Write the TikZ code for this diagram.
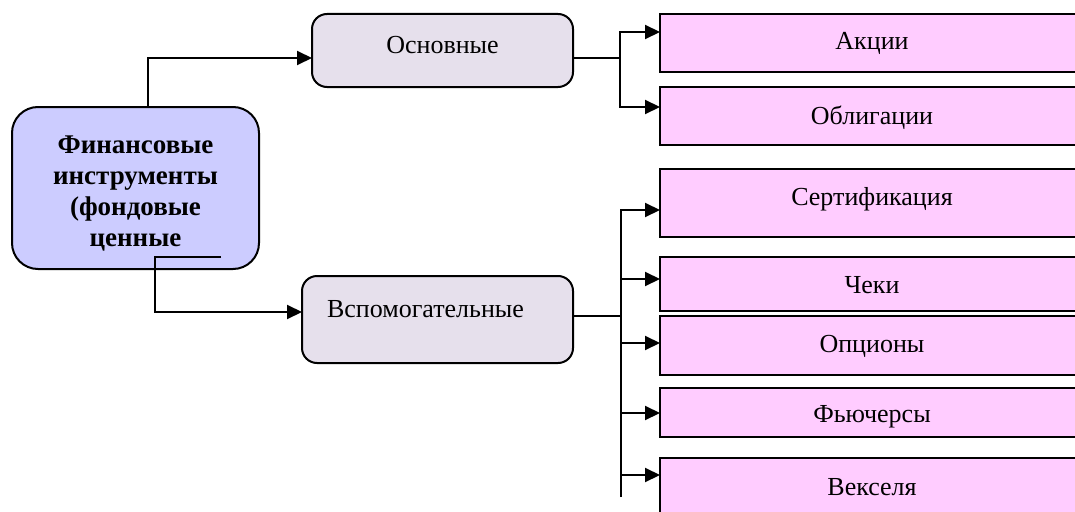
\documentclass[tikz,border=0pt]{standalone}
\usepackage{fontspec}
\setmainfont{Liberation Serif}
\usetikzlibrary{arrows.meta}
\definecolor{mainfill}{HTML}{CCCCFF}
\definecolor{grayfill}{HTML}{E6E0EC}
\definecolor{pinkfill}{HTML}{FFCCFF}
\begin{document}
\begin{tikzpicture}[x=1pt,y=-1pt,
  every node/.style={font=\fontsize{26}{31}\selectfont, inner sep=0pt, outer sep=0pt},
  line/.style={line width=2pt, draw=black},
  arr/.style={line, -{Triangle[length=15pt,width=14pt]}},
  mainbox/.style={draw, line width=2pt, fill=mainfill, rounded corners=26pt, align=center,
    font=\bfseries\fontsize{27}{31}\selectfont, anchor=north west},
  graybox/.style={draw, line width=2pt, fill=grayfill, rounded corners=15pt, anchor=north west},
  pinkbox/.style={draw, line width=2pt, fill=pinkfill, anchor=north west, minimum width=424pt},
]
\useasboundingbox (0,0) rectangle (1075,511);

% boxes
\node[mainbox, minimum width=247pt, minimum height=162pt] (main) at (12,107)
  {\rule{0pt}{29pt}Финансовые\\инструменты\\(фондовые\\ценные};
\node[graybox, minimum width=261pt, text height=39pt, text depth=34pt] (osn) at (312,14) {Основные};
\node[graybox, text width=221pt, align=left, inner xsep=25pt, text height=41pt, text depth=46pt] (vsp) at (302,276) {Вспомогательные};

\node[pinkbox, text height=36pt, text depth=22pt] (akc) at (660,14) {Акции};
\node[pinkbox, text height=37pt, text depth=21pt] (obl) at (660,87) {Облигации};
\node[pinkbox, text height=36pt, text depth=32pt] (sert) at (660,169) {Сертификация};
\node[pinkbox, text height=36pt, text depth=18pt] (che) at (660,257) {Чеки};
\node[pinkbox, text height=36pt, text depth=23pt] (opc) at (660,316) {Опционы};
\node[pinkbox, text height=34pt, text depth=15pt] (fut) at (660,388) {Фьючерсы};
\node[pinkbox, text height=37pt, text depth=35pt] (vek) at (660,458) {Векселя};

% target points
\coordinate (tos) at ([yshift=-7.5pt]osn.west);
\coordinate (tvs) at ([yshift=7.5pt]vsp.west);
\coordinate (tak) at ([yshift=11pt]akc.west);
\coordinate (tob) at ([yshift=9pt]obl.west);
\coordinate (tse) at ([yshift=-7pt]sert.west);
\coordinate (tch) at ([yshift=5pt]che.west);
\coordinate (top) at ([yshift=2.5pt]opc.west);
\coordinate (tfu) at ([yshift=-0.5pt]fut.west);
\coordinate (tve) at ([yshift=19pt]vek.west);
\coordinate (c1) at (221,257);
\coordinate (b2e) at (621,497);

% connectors from main
\draw[arr] ([xshift=12.5pt]main.north) |- (tos);
\draw[arr] (c1) -- ++(-66,0) |- (tvs);

% upper fork
\draw[line] ([yshift=-7.5pt]osn.east) -- ++(47,0) coordinate (b1);
\draw[arr] (b1) |- (tak);
\draw[arr] (b1) |- (tob);

% lower fork
\draw[line] ([yshift=3.5pt]vsp.east) -- ++(48,0) coordinate (b2);
\draw[arr] (b2e) |- (tse);
\foreach \t in {tch,top,tfu,tve} \draw[arr] (b2 |- \t) -- (\t);
\end{tikzpicture}
\end{document}
